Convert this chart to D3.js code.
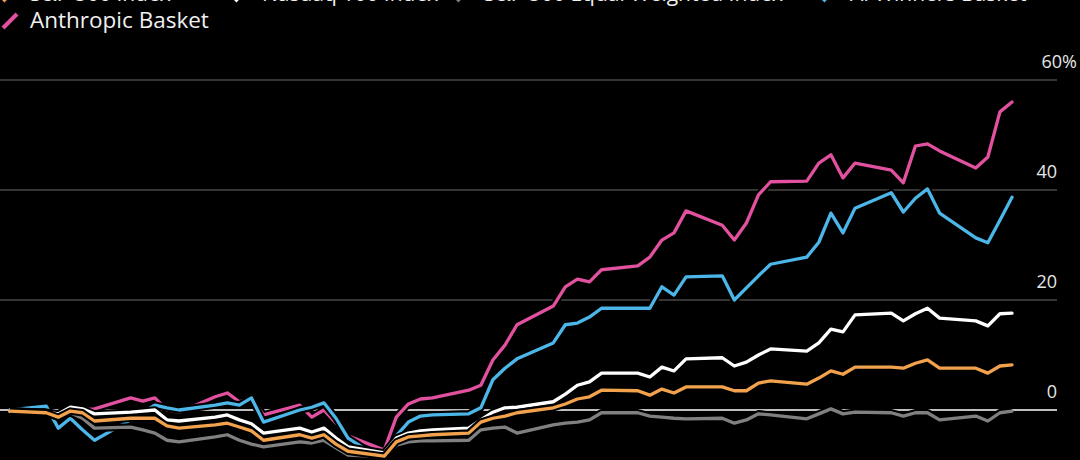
<!DOCTYPE html>
<html>
<head>
<meta charset="utf-8">
<script src="https://cdn.jsdelivr.net/npm/d3@7"></script>
<style>
  body { margin: 0; background: #000; }
  svg { display: block; font-family: "Open Sans", "Noto Sans", sans-serif; }
</style>
</head>
<body>
<div id="chart"></div>
<script>
var svgWidth = 1080;
var svgHeight = 460;

// trading day offsets from the first session
var tradingDay = [0, 3, 4, 5, 6, 7, 10, 11, 12, 13, 14, 17, 18, 19, 20, 21, 24, 25, 26, 27, 28,
  31, 32, 33, 34, 35, 38, 39, 40, 41, 42, 45, 46, 47, 48, 49, 52, 53, 54, 55, 56,
  59, 60, 61, 62, 63, 66, 67, 68, 69, 70, 73, 74, 75, 76, 77, 80, 81, 82, 83];

var seriesNames = ["S&P 500 Index", "Nasdaq 100 Index", "S&P 500 Equal Weighted Index",
  "AI Winners Basket", "Anthropic Basket"];
var seriesColors = ["#f2a24c", "#ffffff", "#808080", "#4db6e8", "#e2519f"];

// % change
var spx = [-0.2, -0.5, -1.3, -0.2, -0.5, -2.0, -1.5, -1.5, -1.5, -2.9, -3.3, -2.7, -2.4, -3.1, -3.8, -5.5, -4.5, -5.1, -4.5, -6.2, -7.5,
  -8.4, -5.8, -4.9, -4.7, -4.5, -4.2, -2.2, -1.5, -1.1, -0.5, 0.4, 1.1, 2.0, 2.4, 3.6, 3.5, 2.7, 3.8, 3.1, 4.2,
  4.2, 3.5, 3.5, 4.9, 5.3, 4.7, 5.8, 7.1, 6.5, 7.8, 7.8, 7.6, 8.5, 9.1, 7.6, 7.6, 6.7, 8.0, 8.2];
var ndx = [-0.2, -0.4, -0.7, 0.5, 0.2, -0.7, -0.4, -0.2, 0, -1.8, -2.0, -1.3, -0.9, -1.8, -2.5, -4.2, -3.3, -4.0, -3.3, -5.1, -6.7,
  -7.8, -5.1, -4.2, -3.8, -3.6, -3.3, -1.8, -0.4, 0.4, 0.5, 1.5, 2.9, 4.5, 5.1, 6.7, 6.7, 6.0, 7.8, 7.1, 9.3,
  9.5, 8.0, 8.7, 10.0, 11.1, 10.7, 12.2, 14.7, 14.2, 17.3, 17.6, 16.2, 17.5, 18.5, 16.7, 16.2, 15.3, 17.5, 17.6];
var spxEqual = [-0.2, -0.5, -1.3, -0.5, -1.5, -3.3, -3.1, -3.6, -4.2, -5.5, -5.8, -4.9, -4.5, -5.5, -6.2, -6.7, -5.8, -6.0, -5.5, -6.9, -8.2,
  -8.5, -6.4, -5.8, -5.6, -5.6, -5.5, -3.6, -3.3, -3.1, -4.2, -2.7, -2.4, -2.2, -1.8, -0.5, -0.5, -1.1, -1.3, -1.5, -1.6,
  -1.5, -2.4, -1.8, -0.7, -0.9, -1.6, -0.7, 0.2, -0.7, -0.4, -0.5, -1.1, -0.5, -0.5, -1.8, -1.1, -2.0, -0.5, -0.2];
var aiWinners = [0, 0.7, -3.3, -1.5, -3.6, -5.5, -1.8, -0.4, 0.9, 0.4, 0, 0.9, 1.3, 0.9, 2.2, -2.2, 0, 0.5, 1.3, -1.5, -5.1,
  -9.3, -4.7, -2.2, -1.1, -0.9, -0.7, 0.4, 5.5, 7.6, 9.3, 12.2, 15.5, 15.8, 16.9, 18.5, 18.5, 18.5, 22.4, 20.9, 24.2,
  24.4, 20.0, 22.2, 24.4, 26.5, 27.8, 30.5, 35.8, 32.2, 36.7, 39.5, 36.0, 38.5, 40.2, 35.8, 31.3, 30.4, 34.5, 38.7];
var anthropic = [0, -0.2, -1.1, 0.4, 0, 0.2, 2.2, 1.6, 2.2, 0, -0.4, 2.4, 3.1, 1.5, 2.2, -0.9, 0.9, -1.3, 0, -2.4, -4.7,
  -7.3, -1.3, 1.1, 2.0, 2.2, 3.6, 4.5, 9.1, 11.8, 15.5, 18.9, 22.4, 23.8, 23.3, 25.5, 26.2, 27.8, 30.9, 32.2, 36.2,
  33.6, 30.9, 34.0, 39.1, 41.5, 41.6, 44.9, 46.4, 42.2, 44.9, 43.6, 41.3, 48.0, 48.4, 47.1, 44.0, 46.0, 54.2, 56.0];

var yTicks = [0, 20, 40, 60];

var allSeries = [spx, ndx, spxEqual, aiWinners, anthropic];

var svg = d3.select("#chart")
  .append("svg")
  .attr("width", svgWidth)
  .attr("height", svgHeight);

svg.append("rect")
  .attr("width", svgWidth)
  .attr("height", svgHeight)
  .attr("fill", "#000");

var xScale = d3.scaleLinear()
  .domain([0, d3.max(tradingDay)])
  .range([10, 1012]);

var yScale = d3.scaleLinear()
  .domain([0, 60])
  .range([410, 80]);

// gridlines + right side labels
var grid = svg.append("g");
grid.selectAll("line")
  .data(yTicks)
  .enter()
  .append("line")
  .attr("x1", 0)
  .attr("x2", 1057)
  .attr("y1", d => yScale(d))
  .attr("y2", d => yScale(d))
  .attr("stroke", d => d === 0 ? "#ffffff" : "#6b6b6b")
  .attr("stroke-width", d => d === 0 ? 1.5 : 1.2);

grid.selectAll("text")
  .data(yTicks)
  .enter()
  .append("text")
  .attr("x", d => d === 60 ? 1077 : 1057)
  .attr("y", d => yScale(d) - 12)
  .attr("text-anchor", "end")
  .attr("fill", "#e6e6e6")
  .style("font-size", "18px")
  .text(d => d === 60 ? d + "%" : d);

// lines, first series drawn on top
var line = d3.line()
  .x((d, i) => xScale(tradingDay[i]))
  .y(d => yScale(d));

var order = [4, 3, 2, 1, 0];
var lines = svg.append("g");
order.forEach(function(k) {
  lines.append("path")
    .datum(allSeries[k])
    .attr("d", line)
    .attr("fill", "none")
    .attr("stroke", "#000")
    .attr("stroke-width", 7.5)
    .attr("stroke-linejoin", "round");
  lines.append("path")
    .datum(allSeries[k])
    .attr("d", line)
    .attr("fill", "none")
    .attr("stroke", seriesColors[k])
    .attr("stroke-width", 3.3)
    .attr("stroke-linejoin", "round")
    .attr("stroke-linecap", "round");
});

// legend (top row is cut off by the frame)
var legendX = [30, 262, 484, 850, 30];
var legendY = [1, 1, 1, 1, 28];
var legendSize = [21, 21, 21, 21, 22.5];
var legend = svg.append("g");
seriesNames.forEach(function(name, i) {
  legend.append("line")
    .attr("x1", legendX[i] - 27)
    .attr("y1", legendY[i])
    .attr("x2", legendX[i] - 13)
    .attr("y2", legendY[i] - 14)
    .attr("stroke", seriesColors[i])
    .attr("stroke-width", 4);
  legend.append("text")
    .attr("x", legendX[i])
    .attr("y", legendY[i])
    .attr("fill", "#f0f0f0")
    .style("font-size", legendSize[i] + "px")
    .text(name);
});
</script>
</body>
</html>
